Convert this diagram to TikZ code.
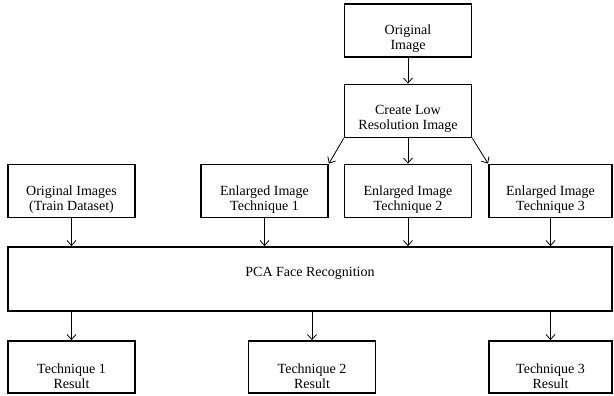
\documentclass[tikz,border=0pt]{standalone}
\usepackage{fontspec}
\setmainfont{Liberation Serif}
\usetikzlibrary{arrows.meta,positioning}

\begin{document}
\begin{tikzpicture}[x=1pt,y=-1pt,->,>={Straight Barb[length=5pt,width=9pt]},line width=0.8pt]
		\tikzstyle{block}=[draw=black,line width=1.8pt,rectangle,minimum width=127pt,minimum height=53pt,inner sep=0pt]
		\tikzstyle{boxtext}=[align=center,font=\fontsize{14}{15}\selectfont,inner sep=0pt]
		\useasboundingbox (0,0) rectangle (614,396);
		% boxes
		\node[block]                       (orig)   at (408,30.5)  {};
		\node[block]                       (lowres) at (408,111)   {};
		\node[block]                       (train)  at (71.5,191)  {};
		\node[block]                       (enl1)   at (264.5,191) {};
		\node[block]                       (enl2)   at (408,191)   {};
		\node[block,minimum width=123pt]   (enl3)   at (550.5,191) {};
		\node[block,minimum width=604pt,minimum height=64pt] (pca) at (310,279) {};
		\node[block,minimum height=52pt]   (res1)   at (71.5,367)  {};
		\node[block,minimum height=52pt]   (res2)   at (312,367)   {};
		\node[block,minimum height=52pt,minimum width=123pt] (res3) at (550.5,367) {};
		% texts
		\node[boxtext] (origT)   at ([yshift=-8pt]orig.center)   {Original\\Image};
		\node[boxtext] (lowresT) at ([yshift=-8pt]lowres.center) {Create Low\\Resolution Image};
		\node[boxtext] (trainT)  at ([yshift=-9pt]train.center)  {Original Images\\(Train Dataset)};
		\node[boxtext] (enl1T)   at ([yshift=-9pt]enl1.center)   {Enlarged Image\\Technique 1};
		\node[boxtext] (enl2T)   at ([yshift=-9pt]enl2.center)   {Enlarged Image\\Technique 2};
		\node[boxtext] (enl3T)   at ([yshift=-9pt]enl3.center)   {Enlarged Image\\Technique 3};
		\node[boxtext] (pcaT)    at ([yshift=5.5pt]pca.center)   {PCA Face Recognition};
		\node[boxtext] (res1T)   at ([yshift=-9pt]res1.center)   {Technique 1\\Result};
		\node[boxtext] (res2T)   at ([yshift=-9pt]res2.center)   {Technique 2\\Result};
		\node[boxtext] (res3T)   at ([yshift=-9pt]res3.center)   {Technique 3\\Result};
		% arrows
		\draw (orig) -- (lowres);
		\draw (lowres.south west) -- (enl1.north east);
		\draw (lowres) -- (enl2);
		\draw (lowres.south east) -- (enl3.north west);
		\foreach \b in {train,enl1,enl2,enl3}
			\draw (\b.south) -- (\b.south |- pca.north);
		\foreach \r in {res1,res2,res3}
			\draw (\r.north |- pca.south) -- (\r.north);
	\end{tikzpicture}
\end{document}
